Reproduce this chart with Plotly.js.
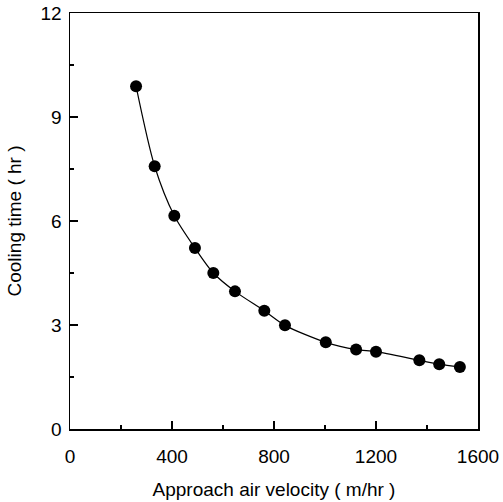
<!DOCTYPE html>
<html>
<head>
<meta charset="utf-8">
<script src="https://cdn.plot.ly/plotly-3.0.1.min.js"></script>
<style>html,body{margin:0;padding:0;background:#fff;}#chart{width:503px;height:502px;}</style>
</head>
<body>
<div id="chart"></div>
<script>
var velocity = [259, 332, 409, 490, 562, 647, 762, 843, 1003, 1122, 1200, 1370, 1448, 1529];
var coolingTime = [9.89, 7.58, 6.15, 5.22, 4.50, 3.97, 3.41, 2.99, 2.50, 2.29, 2.23, 1.98, 1.87, 1.79];
var xTicks = [0, 400, 800, 1200, 1600];
var yTicks = [0, 3, 6, 9, 12];

var font = {family: 'Liberation Sans, Arial, sans-serif', color: '#000', size: 19};

Plotly.newPlot('chart', [{
  x: velocity, y: coolingTime, type: 'scatter', mode: 'lines+markers',
  line: {color: '#000', width: 1.2, shape: 'spline', smoothing: 0.8},
  marker: {color: '#000', size: 12}
}], {
  width: 503, height: 502,
  margin: {l: 70, r: 25, t: 13, b: 73},
  paper_bgcolor: '#fff', plot_bgcolor: '#fff',
  showlegend: false,
  font: font,
  xaxis: {
    range: [0, 1600], tickvals: xTicks, ticktext: xTicks.map(String),
    ticks: 'inside', ticklen: 8, tickwidth: 1.5, tickcolor: '#000',
    ticklabelstandoff: 10,
    minor: {dtick: 200, ticks: 'inside', ticklen: 4, tickcolor: '#000'},
    showline: true, linecolor: '#000', linewidth: 1.5, mirror: true,
    showgrid: false, zeroline: false,
    tickfont: font,
    title: {text: 'Approach air velocity ( m/hr )', font: font, standoff: 16}
  },
  yaxis: {
    range: [0, 12], tickvals: yTicks, ticktext: yTicks.map(String),
    ticks: 'inside', ticklen: 8, tickwidth: 1.5, tickcolor: '#000',
    ticklabelstandoff: 3,
    minor: {dtick: 1.5, ticks: 'inside', ticklen: 4, tickcolor: '#000'},
    showline: true, linecolor: '#000', linewidth: 1.5, mirror: true,
    showgrid: false, zeroline: false,
    tickfont: font,
    title: {text: 'Cooling time ( hr )', font: font, standoff: 14}
  }
}, {staticPlot: true});
</script>
</body>
</html>
